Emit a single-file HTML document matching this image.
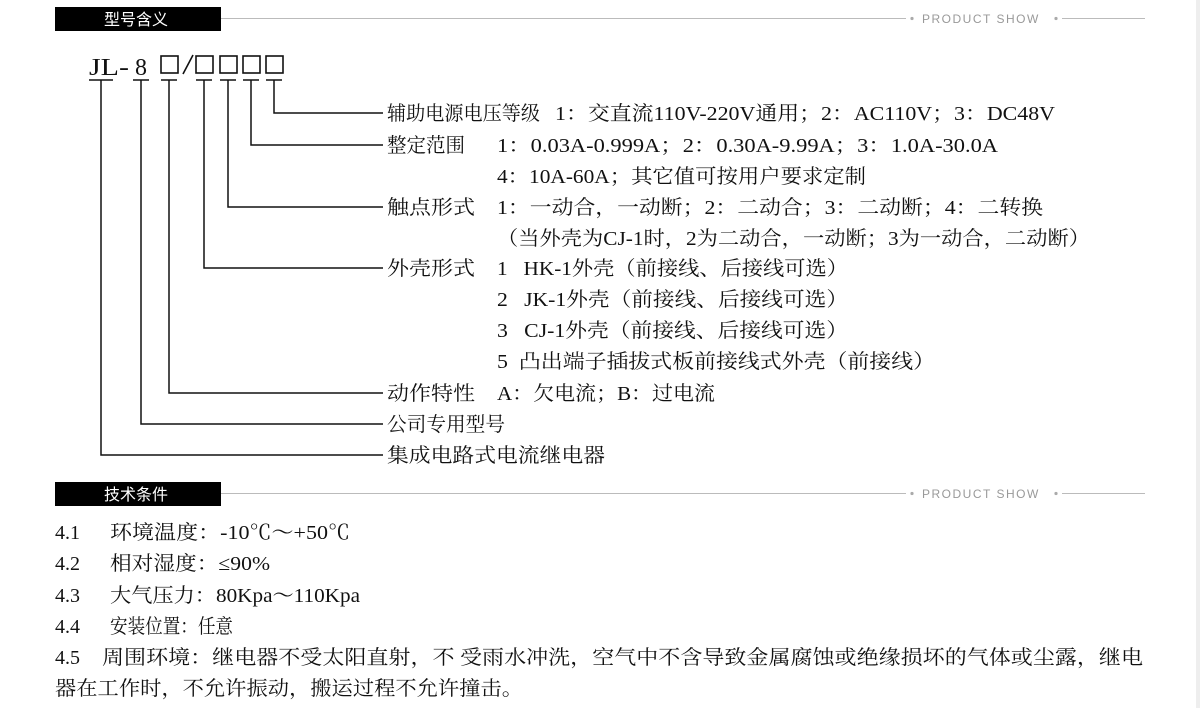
<!DOCTYPE html>
<html><head><meta charset="utf-8"><style>
html,body{margin:0;padding:0;background:#fff;width:1200px;height:708px;overflow:hidden}
svg text{font-family:"Liberation Serif","Noto Serif CJK SC","Noto Sans CJK SC",serif;fill:#111}
.h{font-family:"Liberation Sans","Noto Sans CJK SC",sans-serif;fill:#fff;font-size:16px}
.ps{font-family:"Liberation Sans",sans-serif;fill:#999;font-size:12px;letter-spacing:1.5px}
</style></head><body>
<svg width="1200" height="708" viewBox="0 0 1200 708" xmlns="http://www.w3.org/2000/svg">
<rect x="1196" y="0" width="4" height="708" fill="#eee"/>
<rect x="55" y="7" width="166" height="24" fill="#000"/>
<text class="h" x="104" y="25">型号含义</text>
<line x1="221" y1="18.5" x2="906" y2="18.5" stroke="#bbb"/>
<circle cx="912" cy="18.5" r="1.6" fill="#aaa"/>
<text class="ps" x="922" y="23">PRODUCT SHOW</text>
<circle cx="1056" cy="18.5" r="1.6" fill="#aaa"/>
<line x1="1062" y1="18.5" x2="1145" y2="18.5" stroke="#bbb"/>
<rect x="55" y="482" width="166" height="24" fill="#000"/>
<text class="h" x="104" y="500">技术条件</text>
<line x1="221" y1="493.5" x2="906" y2="493.5" stroke="#bbb"/>
<circle cx="912" cy="493.5" r="1.6" fill="#aaa"/>
<text class="ps" x="922" y="498">PRODUCT SHOW</text>
<circle cx="1056" cy="493.5" r="1.6" fill="#aaa"/>
<line x1="1062" y1="493.5" x2="1145" y2="493.5" stroke="#bbb"/>

<text x="89" y="75" font-size="24" textLength="40" lengthAdjust="spacingAndGlyphs">JL-</text>
<text x="135" y="75" font-size="24">8</text>
<g fill="none" stroke="#111" stroke-width="1.6">
<rect x="161" y="56" width="17" height="17"/>
<line x1="183" y1="74" x2="193" y2="55"/>
<rect x="196" y="56" width="17" height="17"/>
<rect x="220" y="56" width="17" height="17"/>
<rect x="243" y="56" width="17" height="17"/>
<rect x="266" y="56" width="17" height="17"/>
</g>
<g stroke="#111" stroke-width="1.5" fill="none">
<line x1="89" y1="80" x2="113" y2="80"/><polyline points="101,80 101,455 383,455"/>
<line x1="133" y1="80" x2="149" y2="80"/><polyline points="141,80 141,424 383,424"/>
<line x1="161" y1="80" x2="177" y2="80"/><polyline points="169,80 169,393 383,393"/>
<line x1="196" y1="80" x2="212" y2="80"/><polyline points="204,80 204,268 383,268"/>
<line x1="220" y1="80" x2="236" y2="80"/><polyline points="228,80 228,207 383,207"/>
<line x1="243" y1="80" x2="259" y2="80"/><polyline points="251,80 251,145 383,145"/>
<line x1="266" y1="80" x2="282" y2="80"/><polyline points="274,80 274,113 383,113"/>
</g>
<g font-size="20">
<text x="387" y="120" textLength="153" lengthAdjust="spacingAndGlyphs">辅助电源电压等级</text>
<text x="555" y="120" textLength="500" lengthAdjust="spacingAndGlyphs">1：交直流110V-220V通用；2：AC110V；3：DC48V</text>
<text x="387" y="152" textLength="78" lengthAdjust="spacingAndGlyphs">整定范围</text>
<text x="497" y="152" textLength="501" lengthAdjust="spacingAndGlyphs">1：0.03A-0.999A；2：0.30A-9.99A；3：1.0A-30.0A</text>
<text x="497" y="183" textLength="369" lengthAdjust="spacingAndGlyphs">4：10A-60A；其它值可按用户要求定制</text>
<text x="387" y="214" textLength="88" lengthAdjust="spacingAndGlyphs">触点形式</text>
<text x="497" y="214" textLength="546" lengthAdjust="spacingAndGlyphs">1：一动合，一动断；2：二动合；3：二动断；4：二转换</text>
<text x="497" y="245" textLength="593" lengthAdjust="spacingAndGlyphs">（当外壳为CJ-1时，2为二动合，一动断；3为一动合，二动断）</text>
<text x="387" y="275" textLength="88" lengthAdjust="spacingAndGlyphs">外壳形式</text>
<text x="497" y="275" textLength="351" lengthAdjust="spacingAndGlyphs">1&#160;&#160;&#160;HK-1外壳（前接线、后接线可选）</text>
<text x="497" y="306" textLength="351" lengthAdjust="spacingAndGlyphs">2&#160;&#160;&#160;JK-1外壳（前接线、后接线可选）</text>
<text x="497" y="337" textLength="351" lengthAdjust="spacingAndGlyphs">3&#160;&#160;&#160;CJ-1外壳（前接线、后接线可选）</text>
<text x="497" y="368" textLength="438" lengthAdjust="spacingAndGlyphs">5&#160;&#160;凸出端子插拔式板前接线式外壳（前接线）</text>
<text x="387" y="400" textLength="88" lengthAdjust="spacingAndGlyphs">动作特性</text>
<text x="497" y="400" textLength="218" lengthAdjust="spacingAndGlyphs">A：欠电流；B：过电流</text>
<text x="387" y="431" textLength="118" lengthAdjust="spacingAndGlyphs">公司专用型号</text>
<text x="387" y="462" textLength="218" lengthAdjust="spacingAndGlyphs">集成电路式电流继电器</text>

<text x="55" y="539" textLength="25" lengthAdjust="spacingAndGlyphs">4.1</text>
<text x="110" y="539" textLength="240" lengthAdjust="spacingAndGlyphs">环境温度：-10℃～+50℃</text>
<text x="55" y="570" textLength="25" lengthAdjust="spacingAndGlyphs">4.2</text>
<text x="110" y="570" textLength="160" lengthAdjust="spacingAndGlyphs">相对湿度：≤90%</text>
<text x="55" y="602" textLength="25" lengthAdjust="spacingAndGlyphs">4.3</text>
<text x="110" y="602" textLength="250" lengthAdjust="spacingAndGlyphs">大气压力：80Kpa～110Kpa</text>
<text x="55" y="633" textLength="25" lengthAdjust="spacingAndGlyphs">4.4</text>
<text x="110" y="633" textLength="123" lengthAdjust="spacingAndGlyphs">安装位置：任意</text>
<text x="55" y="664" textLength="25" lengthAdjust="spacingAndGlyphs">4.5</text>
<text x="102" y="664" textLength="1041" lengthAdjust="spacingAndGlyphs">周围环境：继电器不受太阳直射，不 受雨水冲洗，空气中不含导致金属腐蚀或绝缘损坏的气体或尘露，继电</text>
<text x="55" y="695" textLength="468" lengthAdjust="spacingAndGlyphs">器在工作时，不允许振动，搬运过程不允许撞击。</text>
</g>
</svg>
</body></html>
